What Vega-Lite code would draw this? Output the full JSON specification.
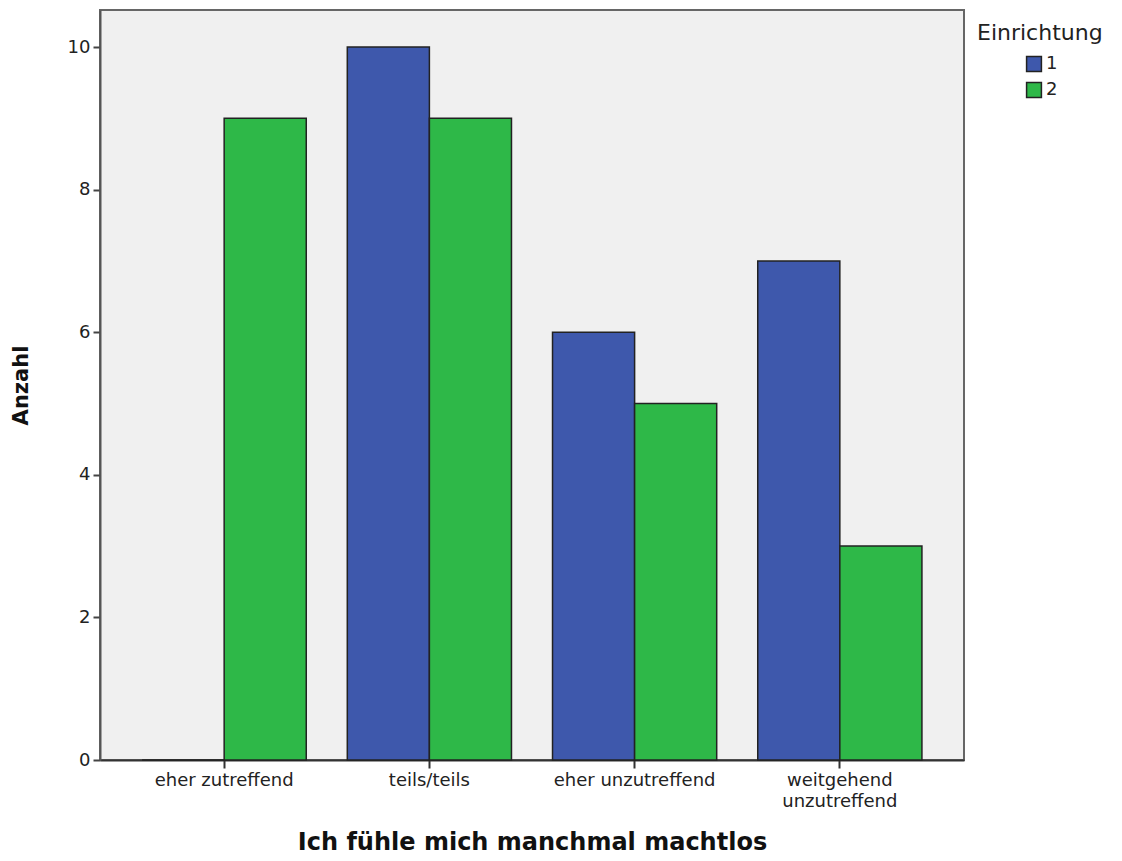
{
  "$schema": "https://vega.github.io/schema/vega-lite/v6.json",
  "autosize": {"type": "none"},
  "padding": {"left": 100, "top": 10, "right": 158, "bottom": 101},
  "width": 864,
  "height": 750,
  "background": "white",
  "config": {
    "font": "DejaVu Sans",
    "view": {"fill": "#F0F0F0", "stroke": "#666666", "strokeWidth": 2}
  },
  "data": {
    "values": [
      {"Kategorie": "eher zutreffend", "Einrichtung": "1", "Anzahl": 0},
      {"Kategorie": "eher zutreffend", "Einrichtung": "2", "Anzahl": 9},
      {"Kategorie": "teils/teils", "Einrichtung": "1", "Anzahl": 10},
      {"Kategorie": "teils/teils", "Einrichtung": "2", "Anzahl": 9},
      {"Kategorie": "eher unzutreffend", "Einrichtung": "1", "Anzahl": 6},
      {"Kategorie": "eher unzutreffend", "Einrichtung": "2", "Anzahl": 5},
      {"Kategorie": "weitgehend unzutreffend", "Einrichtung": "1", "Anzahl": 7},
      {"Kategorie": "weitgehend unzutreffend", "Einrichtung": "2", "Anzahl": 3}
    ]
  },
  "mark": {"type": "bar", "stroke": "#222222", "strokeWidth": 1.5},
  "encoding": {
    "x": {
      "field": "Kategorie",
      "type": "nominal",
      "sort": ["eher zutreffend", "teils/teils", "eher unzutreffend", "weitgehend unzutreffend"],
      "scale": {"paddingInner": 0.2, "paddingOuter": 0.205},
      "axis": {
        "title": "Ich fühle mich manchmal machtlos",
        "titleFontSize": 24,
        "titleFontWeight": "bold",
        "titleColor": "#111111",
        "titlePadding": 20,
        "labelAngle": 0,
        "labelFontSize": 18,
        "labelColor": "#222222",
        "labelPadding": 3,
        "labelExpr": "datum.label == 'weitgehend unzutreffend' ? ['weitgehend', 'unzutreffend'] : datum.label",
        "labelLineHeight": 21,
        "tickSize": 8,
        "tickColor": "#333333",
        "tickWidth": 2,
        "domainColor": "#333333",
        "domainWidth": 2,
        "grid": false
      }
    },
    "xOffset": {"field": "Einrichtung", "type": "nominal", "scale": {"paddingInner": 0, "paddingOuter": 0}},
    "y": {
      "field": "Anzahl",
      "type": "quantitative",
      "scale": {"domain": [0, 10.52], "nice": false},
      "axis": {
        "title": "Anzahl",
        "titleFontSize": 21,
        "titleFontWeight": "bold",
        "titleColor": "#111111",
        "titlePadding": 36,
        "values": [0, 2, 4, 6, 8, 10],
        "labelFontSize": 18,
        "labelColor": "#222222",
        "labelPadding": 3,
        "tickSize": 7,
        "tickColor": "#444444",
        "tickWidth": 2,
        "domainColor": "#555555",
        "domainWidth": 2,
        "grid": false
      }
    },
    "fill": {
      "field": "Einrichtung",
      "type": "nominal",
      "scale": {"domain": ["1", "2"], "range": ["#3E58AC", "#2EB848"]},
      "legend": {
        "title": "Einrichtung",
        "orient": "none",
        "legendX": 877,
        "legendY": 13,
        "titleFontSize": 22,
        "titleFontWeight": "normal",
        "titleColor": "#222222",
        "titlePadding": 10,
        "labelFontSize": 18,
        "labelColor": "#222222",
        "labelOffset": 3,
        "symbolType": "square",
        "symbolSize": 220,
        "symbolStrokeColor": "#222222",
        "symbolStrokeWidth": 1.5,
        "symbolOffset": 48,
        "rowPadding": 4
      }
    }
  }
}
